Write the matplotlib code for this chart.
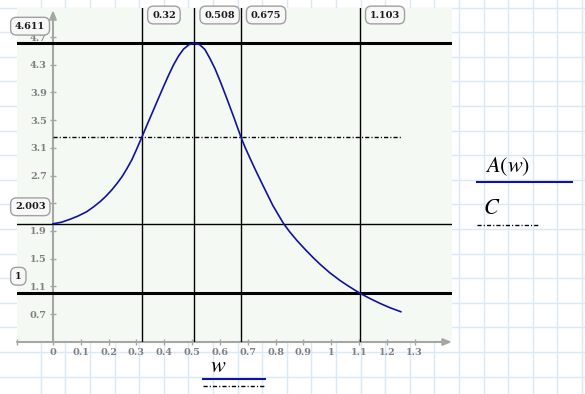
import matplotlib.pyplot as plt
import numpy as np

plt.rcParams['mathtext.fontset'] = 'stix'

# curve A(w)
w_vals = [0, 0.03, 0.061, 0.09, 0.121, 0.145, 0.169, 0.19, 0.211, 0.23,
          0.248, 0.265, 0.283, 0.30, 0.32, 0.34, 0.361, 0.379, 0.397, 0.415,
          0.433, 0.451, 0.469, 0.489, 0.508, 0.527, 0.546, 0.564, 0.582, 0.603,
          0.624, 0.65, 0.675, 0.69, 0.708, 0.73, 0.756, 0.79, 0.828, 0.85,
          0.876, 0.905, 0.936, 0.96, 0.995, 1.032, 1.065, 1.103, 1.14, 1.175,
          1.21, 1.25]
A_vals = [2.003, 2.025, 2.068, 2.115, 2.177, 2.245, 2.322, 2.40, 2.491, 2.585,
          2.683, 2.795, 2.924, 3.075, 3.26, 3.45, 3.646, 3.815, 3.982, 4.145,
          4.296, 4.425, 4.525, 4.59, 4.611, 4.59, 4.52, 4.39, 4.245, 4.04,
          3.82, 3.54, 3.26, 3.11, 2.95, 2.76, 2.545, 2.268, 2.01, 1.89,
          1.765, 1.638, 1.51, 1.418, 1.295, 1.183, 1.095, 1.0, 0.922, 0.854,
          0.793, 0.733]

# marker lines
h_thick = [4.611, 1]
h_thin = [2.003]
v_lines = [0.32, 0.508, 0.675, 1.103]
v_labels = ['0.32', '0.508', '0.675', '1.103']
h_labels = [(4.611, '4.611'), (2.003, '2.003'), (1, '1')]
C_level = 3.26
C_range = [0, 1.25]

xticks = [0, 0.1, 0.2, 0.3, 0.4, 0.5, 0.6, 0.7, 0.8, 0.9, 1, 1.1, 1.2, 1.3]
xtick_labels = ['0', '0.1', '0.2', '0.3', '0.4', '0.5', '0.6', '0.7', '0.8', '0.9', '1', '1.1', '1.2', '1.3']
yticks = [0.7, 1.1, 1.5, 1.9, 2.3, 2.7, 3.1, 3.5, 3.9, 4.3, 4.7]

xlim = (-0.1294, 1.434)
ylim = (0.296, 5.119)

W, H = 585, 394
fig = plt.figure(figsize=(W / 100, H / 100), dpi=100)
fig.patch.set_facecolor('white')

# worksheet grid behind everything (pixel coords)
bg = fig.add_axes([0, 0, 1, 1], zorder=0)
bg.set_xlim(0, W)
bg.set_ylim(H, 0)
bg.axis('off')
for gx in np.arange(40.7, W, 24.6):
    bg.axvline(gx, color='#dbe9f7', lw=1)
for gy in np.arange(7.6, H, 24.6):
    bg.axhline(gy, color='#dbe9f7', lw=1)

dashdot = (0, (3, 1.5, 0.8, 1.5))
curve_col = '#1212a0'
grey = '#a6a6a6'
serif_b = dict(family='DejaVu Serif', weight='bold')

ax = fig.add_axes([17 / W, (H - 342) / H, 435 / W, 334 / H], zorder=1)
ax.set_facecolor('#f4f9f4')
ax.set_xlim(*xlim)
ax.set_ylim(*ylim)
for s in ax.spines.values():
    s.set_visible(False)

# axis lines with arrows
ax.annotate('', xy=(1.0, 0), xytext=(0, 0), xycoords='axes fraction',
            arrowprops=dict(arrowstyle='-|>,head_length=0.5,head_width=0.2',
                            color=grey, lw=1.5, shrinkA=0, shrinkB=0))
ax.annotate('', xy=(0, 0.994), xytext=(0, 0), xycoords=('data', 'axes fraction'),
            arrowprops=dict(arrowstyle='-|>,head_length=0.5,head_width=0.2',
                            color=grey, lw=1.5, shrinkA=0, shrinkB=0))

ax.set_xticks(xticks)
ax.set_xticklabels(xtick_labels)
ax.set_xticks([xlim[0]], minor=True)
ax.set_yticks(yticks)
ax.spines['left'].set_position(('data', 0))
ax.tick_params(axis='both', which='both', direction='inout', length=5, width=1,
               color=grey, labelcolor='#7f7f7f', labelsize=7, pad=2)
for lab in ax.get_xticklabels() + ax.get_yticklabels():
    lab.set_fontfamily('DejaVu Serif')
    lab.set_fontweight('bold')

# horizontal and vertical marker lines
for y in h_thick:
    ax.axhline(y, color='black', lw=2.2, zorder=3)
for y in h_thin:
    ax.axhline(y, color='black', lw=1, zorder=3)
for x in v_lines:
    ax.axvline(x, color='black', lw=1, zorder=3)
ax.plot(C_range, [C_level, C_level], color='black', lw=1, ls=dashdot, zorder=3)

# curve
ax.plot(w_vals, A_vals, color=curve_col, lw=1.2, zorder=4)

box = dict(boxstyle='round,pad=0.45,rounding_size=0.6', fc='#f7f7f7', ec='#a0a0a0', lw=1)
for x, t in zip(v_lines, v_labels):
    ax.annotate(t, xy=(x, 1), xycoords=('data', 'axes fraction'), xytext=(10, -7),
                textcoords='offset pixels', ha='left', va='center', fontsize=7,
                color='#1a1a1a', bbox=box, zorder=6, annotation_clip=False, **serif_b)
for y, t in h_labels:
    ax.annotate(t, xy=(0, y), xycoords=('axes fraction', 'data'), xytext=(-2, 17),
                textcoords='offset pixels', ha='left', va='center', fontsize=7,
                color='#1a1a1a', bbox=box, zorder=6, annotation_clip=False, **serif_b)

# axis variable label and legend (outside the plot area)
bg.text(218.5, 366, r'$w$', fontsize=16, ha='center', va='center', zorder=2)
bg.plot([203, 265], [379, 379], color=curve_col, lw=1.5)
bg.plot([203, 265], [386, 386], color='black', lw=1, ls=dashdot)

bg.text(508, 167, r'$A(w)$', fontsize=16, ha='center', va='center')
bg.plot([477, 572], [182, 182], color=curve_col, lw=1.5)
bg.text(492, 208, r'$C$', fontsize=16, ha='center', va='center')
bg.plot([477, 540], [225, 225], color='black', lw=1, ls=dashdot)

fig.savefig('out.png', dpi=100)
